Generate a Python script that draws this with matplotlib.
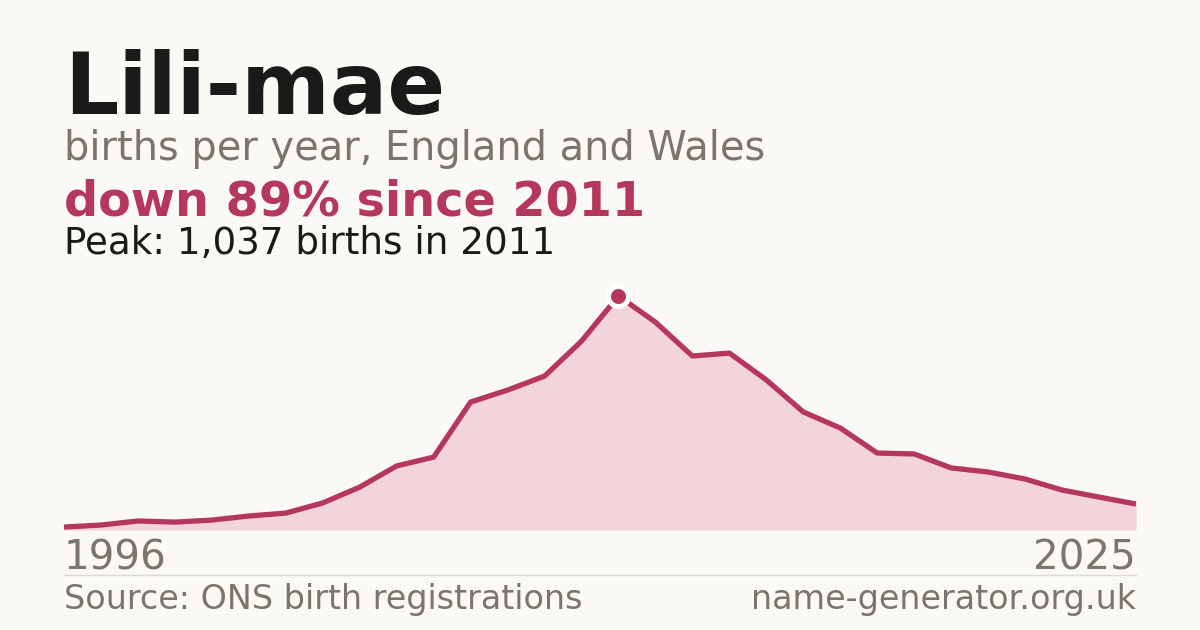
import matplotlib
matplotlib.use("Agg")
import matplotlib.pyplot as plt
from matplotlib.lines import Line2D

plt.rcParams["font.family"] = ["DejaVu Sans"]

years = list(range(1996, 2026))
births = [13, 22, 40, 35, 44, 62, 75, 120, 190, 284, 323, 567, 620, 682, 837,
          1037, 921, 771, 784, 665, 523, 452, 341, 337, 275, 257, 226, 177, 146, 115]
peak_year = 2011
peak_value = 1037

title = "Lili-mae"
subtitle = "births per year, England and Wales"
headline = "down 89% since 2011"
peak_text = "Peak: 1,037 births in 2011"
source_text = "Source: ONS birth registrations"
site_text = "name-generator.org.uk"

BG = "#faf9f4"
DARK = "#1a1a1a"
GRAY = "#7a756d"
RED = "#b5385a"
FILL = "#f2d4da"
RULE = "#dddad2"

W, H = 1200, 630
fig = plt.figure(figsize=(12, 6.3), dpi=100)
fig.patch.set_facecolor(BG)

def fx(px):
    return px / W

def fy(py):
    return 1 - py / H

# plot area: x 64..1136, value 0 at y=530, peak at y=296
ax = fig.add_axes([fx(64), fy(530), fx(1136) - fx(64), (530 - 296) / H])
ax.set_xlim(years[0], years[-1])
ax.set_ylim(0, peak_value)
ax.set_facecolor("none")
ax.axis("off")
ax.fill_between(years, births, 0, color=FILL, linewidth=0, zorder=1)
ax.plot(years, births, color=RED, linewidth=3.8, solid_joinstyle="round",
        solid_capstyle="butt", zorder=2, clip_on=False)
ax.plot([peak_year], [peak_value], marker="o", markersize=14.4, color=RED,
        markeredgecolor="white", markeredgewidth=3.6, zorder=3, clip_on=False)

fig.text(fx(64), fy(114), title, fontsize=61.3, fontweight="bold", color=DARK, va="baseline", ha="left")
fig.text(fx(64), fy(160), subtitle, fontsize=28.7, color=GRAY, va="baseline", ha="left")
fig.text(fx(64), fy(215), headline, fontsize=34.4, fontweight="bold", color=RED, va="baseline", ha="left")
fig.text(fx(64), fy(254), peak_text, fontsize=26.8, color=DARK, va="baseline", ha="left")

fig.text(fx(64), fy(570), str(years[0]), fontsize=29.1, color=GRAY, va="baseline", ha="left")
fig.text(fx(1136), fy(570), str(years[-1]), fontsize=29.1, color=GRAY, va="baseline", ha="right")

fig.add_artist(Line2D([fx(64), fx(1136)], [fy(574.5), fy(574.5)], color=RULE, linewidth=1,
                      transform=fig.transFigure))

fig.text(fx(64), fy(609), source_text, fontsize=24, color=GRAY, va="baseline", ha="left")
fig.text(fx(1136), fy(609), site_text, fontsize=24, color=GRAY, va="baseline", ha="right")

fig.savefig("out.png", dpi=100, facecolor=BG)
